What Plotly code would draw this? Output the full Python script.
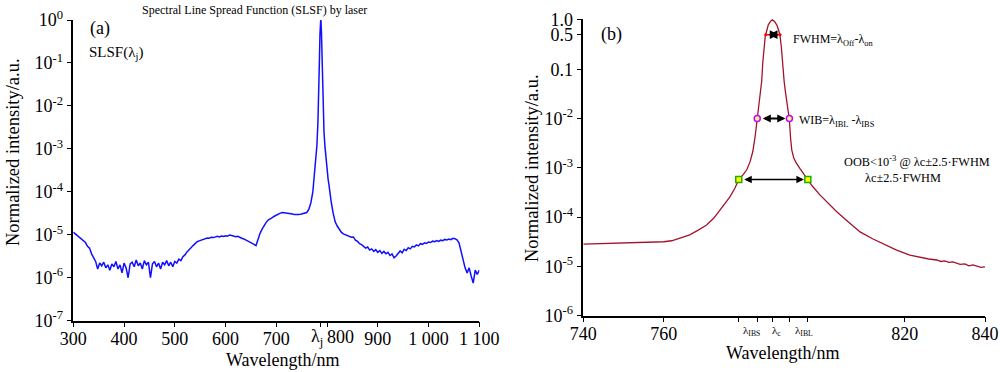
import math
import plotly.graph_objects as go

# ---------------- data: panel (a) ----------------
wl_a = (list(range(300, 773, 4))
        + [774, 776, 778, 780, 782, 783, 784, 785, 786, 787, 787.5, 788, 789, 790, 791, 792,
           794, 796, 798, 800, 802, 804, 806]
        + list(range(808, 1101, 4)))

int_a = [
    # 300-340
    1.15e-5, 1.05e-5, 1.0e-5, 9.0e-6, 8.2e-6, 7.4e-6, 6.6e-6, 5.4e-6, 4.9e-6, 3.6e-6, 2.9e-6,
    # 344-500
    2.4e-6, 1.6e-6, 2.2e-6, 1.9e-6, 2.3e-6, 1.7e-6, 2.0e-6, 1.5e-6, 2.1e-6, 1.8e-6,
    2.4e-6, 1.6e-6, 2.0e-6, 1.3e-6, 2.2e-6, 1.7e-6, 1.0e-6, 2.1e-6, 2.3e-6, 1.8e-6,
    2.6e-6, 1.9e-6, 2.2e-6, 1.6e-6, 2.5e-6, 2.0e-6, 2.3e-6, 1.0e-6, 2.1e-6, 2.4e-6,
    1.8e-6, 2.2e-6, 1.6e-6, 2.3e-6, 2.0e-6, 2.5e-6, 1.9e-6, 2.3e-6, 1.8e-6, 2.4e-6,
    # 504-660
    2.2e-6, 2.7e-6, 2.5e-6, 3.1e-6, 3.4e-6, 4.0e-6, 4.6e-6, 5.0e-6, 5.6e-6, 6.4e-6,
    6.9e-6, 7.2e-6, 7.5e-6, 7.9e-6, 8.0e-6, 8.4e-6, 8.3e-6, 8.8e-6, 8.6e-6, 9.0e-6,
    9.2e-6, 8.9e-6, 9.4e-6, 9.1e-6, 9.5e-6, 9.3e-6, 9.9e-6, 9.6e-6, 9.4e-6, 9.0e-6,
    9.2e-6, 8.6e-6, 8.3e-6, 8.0e-6, 7.6e-6, 7.2e-6, 6.9e-6, 6.5e-6, 6.0e-6, 5.6e-6,
    # 664-772
    8.0e-6, 1.08e-5, 1.35e-5, 1.7e-5, 1.95e-5, 2.2e-5, 2.3e-5, 2.5e-5, 2.7e-5, 2.9e-5,
    3.0e-5, 3.2e-5, 3.3e-5, 3.25e-5, 3.3e-5, 3.2e-5, 3.15e-5, 3.05e-5, 2.95e-5, 2.9e-5,
    2.95e-5, 3.0e-5, 3.1e-5, 3.2e-5, 3.3e-5, 3.9e-5, 5.5e-5, 1.0e-4,
    # peak 774-806
    1.8e-4, 3.0e-4, 5.5e-4, 1.2e-3, 4.0e-3, 9.0e-3, 3.0e-2, 0.12, 0.45, 0.92, 1.0, 0.95,
    0.5, 0.12, 0.028, 8.5e-3, 2.4e-3, 1.1e-3, 5.5e-4, 3.2e-4, 2.0e-4, 1.4e-4, 8.5e-5,
    # 808-1100
    6.0e-5, 3.2e-5, 2.0e-5, 1.6e-5, 1.3e-5, 1.15e-5, 1.05e-5, 1.0e-5, 9.5e-6,
    9.2e-6, 8.8e-6, 8.9e-6, 7.5e-6, 7.0e-6, 6.2e-6, 5.9e-6, 5.4e-6, 4.9e-6, 5.2e-6,
    4.4e-6, 4.7e-6, 4.1e-6, 4.5e-6, 3.9e-6, 4.3e-6, 3.7e-6, 4.1e-6, 3.6e-6, 3.9e-6,
    3.3e-6, 3.6e-6, 2.9e-6, 3.2e-6, 3.7e-6, 4.2e-6, 3.8e-6, 4.6e-6, 4.3e-6, 5.0e-6,
    4.7e-6, 5.4e-6, 5.2e-6, 5.8e-6, 5.5e-6, 6.2e-6, 6.0e-6, 6.5e-6, 6.3e-6, 6.8e-6,
    6.6e-6, 7.1e-6, 6.9e-6, 7.3e-6, 7.0e-6, 7.5e-6, 7.3e-6, 7.8e-6, 7.6e-6, 8.0e-6,
    7.7e-6, 8.3e-6, 8.1e-6, 7.6e-6, 6.5e-6, 4.2e-6, 2.6e-6, 1.7e-6, 1.3e-6, 1.7e-6,
    1.1e-6, 0.75e-6, 1.5e-6, 1.2e-6, 1.5e-6,
]
assert len(wl_a) == len(int_a), (len(wl_a), len(int_a))

xtick_a_vals = [300, 400, 500, 600, 700, 787.5, 800, 900, 1000, 1100]
xtick_a_text = ["300", "400", "500", "600", "700", "", "", "900", "1 000", "1 100"]
ytick_a_vals = [1, 1e-1, 1e-2, 1e-3, 1e-4, 1e-5, 1e-6, 1e-7]
ytick_a_text = ["10<sup>0</sup>", "10<sup>-1</sup>", "10<sup>-2</sup>", "10<sup>-3</sup>",
                "10<sup>-4</sup>", "10<sup>-5</sup>", "10<sup>-6</sup>", "10<sup>-7</sup>"]

# ---------------- data: panel (b) ----------------
wl_b = [740, 745, 750, 755, 760, 762, 764, 766.5, 768.5, 770.7, 772.5, 774, 775.3, 776.5,
        777.7, 778.7, 779.8, 780.7, 781.5, 782.2, 782.8, 783.3, 783.8, 784.4, 784.7, 785.0,
        785.3, 785.6, 786.05, 786.6, 787.05, 787.6, 788.15, 788.6, 789.0, 789.3, 789.6,
        790.0, 790.3, 790.6, 791.0, 791.3, 791.6, 791.9, 792.4, 793.0, 793.9, 795.0, 795.9,
        797, 798.9, 801, 803.1, 806, 808.9, 812, 815.5, 818, 821.3, 824, 826, 828, 829,
        830, 831, 832, 833.8, 835, 836, 837, 838, 839, 840]
log_int_b = [-4.55, -4.54, -4.53, -4.52, -4.50, -4.48, -4.43, -4.36, -4.27, -4.16, -4.02,
             -3.86, -3.73, -3.59, -3.42, -3.24, -3.14, -3.04, -2.88, -2.67, -2.35, -2.02,
             -1.70, -1.25, -0.85, -0.52, -0.33, -0.24, -0.10, -0.03, 0.0, -0.03, -0.10,
             -0.20, -0.34, -0.55, -0.90, -1.25, -1.45, -1.60, -1.85, -2.02, -2.40, -2.64,
             -2.80, -2.90, -3.01, -3.14, -3.24, -3.37, -3.55, -3.72, -3.89, -4.10, -4.30,
             -4.44, -4.57, -4.67, -4.77, -4.82, -4.85, -4.87, -4.90, -4.89, -4.92, -4.91,
             -4.96, -4.95, -4.99, -4.97, -5.00, -5.02, -5.01]
assert len(wl_b) == len(log_int_b)
int_b = [10 ** v for v in log_int_b]

fwhm_x = [785.4, 789.0]
fwhm_y = [0.5, 0.5]
wib_x = [783.3, 791.3]
wib_y = [1e-2, 1e-2]
oob_x = [778.7, 795.9]
oob_y = [5.8e-4, 5.8e-4]

xtick_b_vals = [740, 760, 778.7, 783.3, 787.1, 791.3, 795.9, 820, 840]
xtick_b_text = ["740", "760", "", "", "", "", "", "820", "840"]
ytick_b_vals = [1.0, 0.5, 0.1, 1e-2, 1e-3, 1e-4, 1e-5, 1e-6]
ytick_b_text = ["1.0", "0.5", "0.1", "10<sup>-2</sup>", "10<sup>-3</sup>", "10<sup>-4</sup>",
                "10<sup>-5</sup>", "10<sup>-6</sup>"]

# ---------------- figure ----------------
FONT = "Liberation Serif"
W, H = 1000, 372


def px(x):
    return x / W


def py(y):
    return 1 - y / H


fig = go.Figure()
fig.add_trace(go.Scatter(x=wl_a, y=int_a, mode="lines", xaxis="x", yaxis="y",
                         line=dict(color="#1010ff", width=1.5), showlegend=False))
fig.add_trace(go.Scatter(x=wl_b, y=int_b, mode="lines", xaxis="x2", yaxis="y2",
                         line=dict(color="#a3122a", width=1.3), showlegend=False))
fig.add_trace(go.Scatter(x=fwhm_x, y=fwhm_y, mode="lines+markers", xaxis="x2", yaxis="y2",
                         line=dict(color="#ff0000", width=1.4),
                         marker=dict(size=3, color="#ff0000"), showlegend=False))
fig.add_trace(go.Scatter(x=wib_x, y=wib_y, mode="markers", xaxis="x2", yaxis="y2",
                         marker=dict(symbol="circle", size=6, color="#ffff80",
                                     line=dict(color="#cc00ff", width=1.5)),
                         showlegend=False))
fig.add_trace(go.Scatter(x=oob_x, y=oob_y, mode="markers", xaxis="x2", yaxis="y2",
                         marker=dict(symbol="square", size=6, color="#ffff00",
                                     line=dict(color="#22aa00", width=1.5)),
                         showlegend=False))

axis_common = dict(showline=True, linecolor="black", linewidth=1.5, ticks="outside",
                   ticklen=5, tickwidth=1.3, tickcolor="black", showgrid=False,
                   zeroline=False, automargin=False, ticklabeloverflow="allow",
                   tickfont=dict(family=FONT, size=18, color="black"))

fig.update_layout(
    template="none",
    width=W, height=H, autosize=False,
    margin=dict(l=0, r=0, t=0, b=0, pad=0),
    paper_bgcolor="white", plot_bgcolor="white",
    showlegend=False,
    xaxis=dict(domain=[px(73.3), px(479.3)], range=[300, 1100], anchor="y",
               ticklabelstandoff=-4,
               tickmode="array", tickvals=xtick_a_vals, ticktext=xtick_a_text, **axis_common),
    yaxis=dict(domain=[py(320.7), py(20)], type="log", range=[-7, 0], anchor="x",
               tickmode="array", tickvals=ytick_a_vals, ticktext=ytick_a_text, **axis_common),
    xaxis2=dict(domain=[px(583.3), px(985)], range=[740, 840], anchor="y2",
                ticklabelstandoff=-4,
                tickmode="array", tickvals=xtick_b_vals, ticktext=xtick_b_text, **axis_common),
    yaxis2=dict(domain=[py(315.7), py(18.9)], type="log", range=[-6, 0.02], anchor="x2",
                tickmode="array", tickvals=ytick_b_vals, ticktext=ytick_b_text, **axis_common),
)

ann = []


def text(x, y, s, size, xanchor="center", angle=0):
    ann.append(dict(x=px(x), y=py(y), xref="paper", yref="paper", text=s, showarrow=False,
                    xanchor=xanchor, yanchor="middle", textangle=angle,
                    font=dict(family=FONT, size=size, color="black")))


text(254, 10, "Spectral Line Spread Function (SLSF) by laser", 12)
text(100, 28, "(a)", 18)
text(116, 53, "SLSF(λ<sub>j</sub>)", 15)
text(13, 152, "Normalized intensity/a.u.", 18.5, angle=-90)
text(283, 360, "Wavelength/nm", 18)
text(316.5, 337, "λ<sub>j</sub>", 18)
text(340, 337, "800", 18)

text(611, 34, "(b)", 18)
text(532, 168, "Normalized intensity/a.u.", 18.5, angle=-90)
text(783, 353, "Wavelength/nm", 18)
text(790.7, 40, "FWHM=λ<sub>Off</sub>-λ<sub>on</sub>", 12, xanchor="left")
text(796.7, 121, "WIB=λ<sub>IBL</sub> -λ<sub>IBS</sub>", 12, xanchor="left")
text(841.7, 161, "OOB&lt;10<sup>-3</sup> @ λc±2.5·FWHM", 12.3, xanchor="left")
text(903, 178, "λc±2.5·FWHM", 12.3)
text(751, 331, "λ<sub>IBS</sub>", 11)
text(776, 331, "λ<sub>c</sub>", 11)
text(804, 331, "λ<sub>IBL</sub>", 11)


def arrow(x0, x1, yv, width, size=1.0, stand=3):
    ann.append(dict(x=x1, y=math.log10(yv), ax=x0, ay=math.log10(yv), xref="x2", yref="y2",
                    axref="x2", ayref="y2", text="", showarrow=True, arrowhead=2,
                    arrowside="end+start", arrowwidth=width, arrowsize=size,
                    arrowcolor="black", standoff=stand, startstandoff=stand))


arrow(fwhm_x[0] + 0.4, fwhm_x[1] - 0.4, fwhm_y[0], 2.5, 0.7, 0)
arrow(wib_x[0], wib_x[1], wib_y[0], 1.8, 0.9, 4)
arrow(oob_x[0], oob_x[1], oob_y[0], 1.5, 1.0, 4)

fig.update_layout(annotations=ann)
fig.write_html(
    "out.html",
    config={"displayModeBar": False},
    post_script="document.body.style.margin='0px';document.body.style.padding='0px';"
                "document.documentElement.style.overflow='hidden';",
)
